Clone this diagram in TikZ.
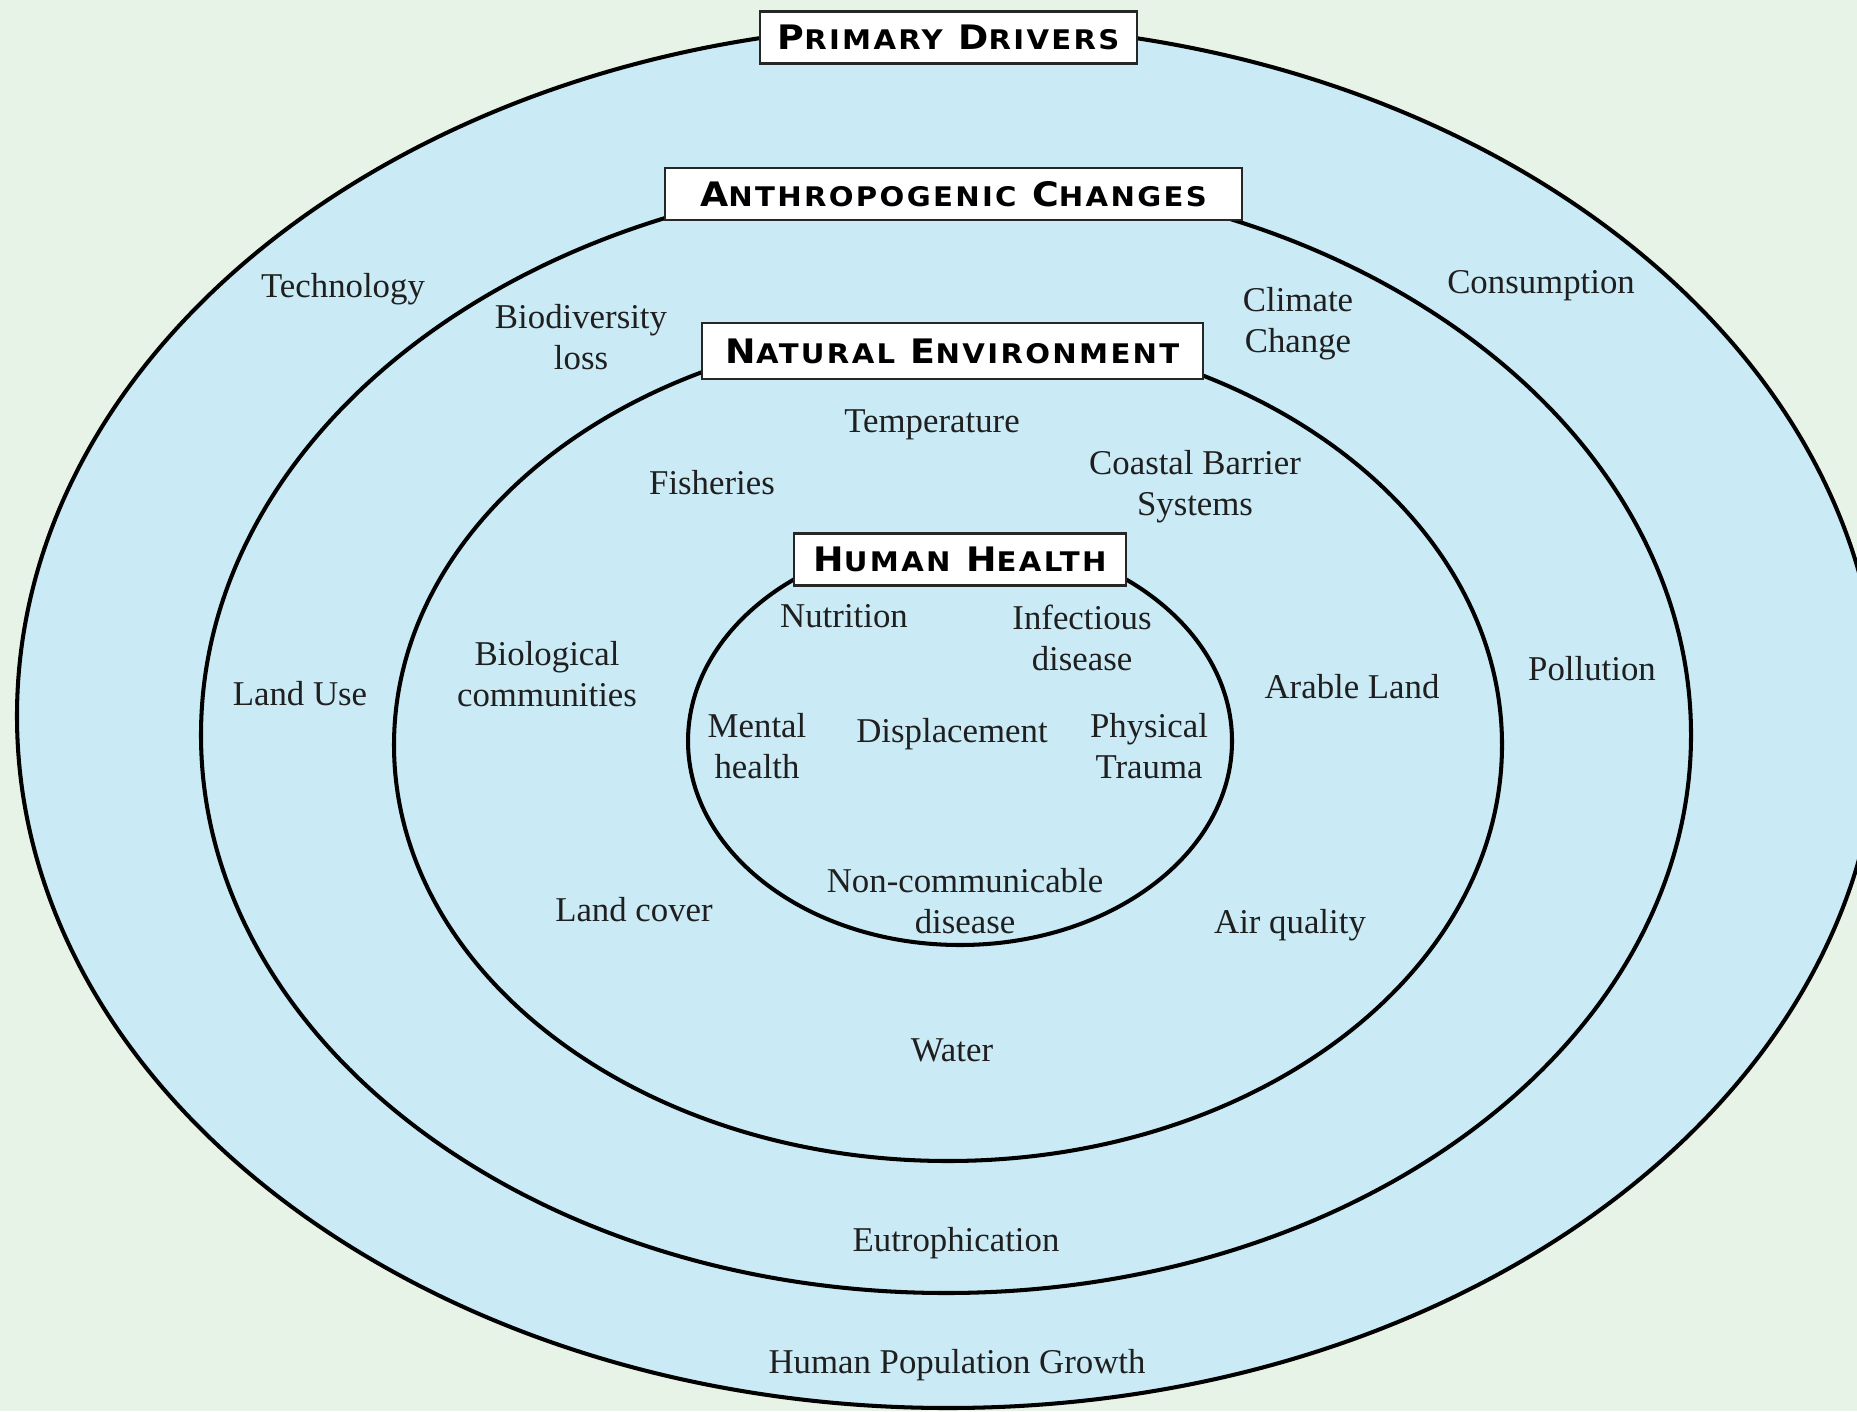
\documentclass[tikz,border=0pt]{standalone}
\usepackage{tikz}
\usepackage{graphicx}
\usepackage{fontspec}
\setmainfont{Liberation Serif}
\newfontfamily\titlefont[LetterSpace=8]{DejaVu Sans}

\definecolor{bgcol}{RGB}{232,243,231}
\definecolor{ringcol}{RGB}{202,234,245}

% first letter big, rest as small capitals
\newcommand{\scword}[2]{#1\scalebox{0.8}{#2}}
\newcommand{\ringtitle}[1]{\scalebox{1.08}[1]{\titlefont\bfseries\fontsize{9.6}{11}\selectfont #1}}

\tikzset{
    ringline/.style={line width=1.15pt, draw=black},
    ringbox/.style={draw=black!85, line width=0.8pt, fill=white, inner sep=0pt, minimum height=0.52cm},
    factor/.style={font=\fontsize{9.9}{11.7}\selectfont, align=center, inner sep=0pt, text=black!88},
}

\begin{document}
\begin{tikzpicture}
    \useasboundingbox (0,0) rectangle (18.57,14.11);
    \fill [bgcol] (0,0) rectangle (18.57,14.11);
    \clip (0,0) rectangle (18.57,14.11);
    % Ring centres
    \coordinate (cdrivers) at (9.48, 6.95);
    \coordinate (cchanges) at (9.46, 6.76);
    \coordinate (cnature) at (9.48, 6.66);
    \coordinate (chealth) at (9.60, 6.70);
    % Draw rings
    \filldraw [ringline, fill=ringcol] (cdrivers) ellipse [x radius=9.31, y radius=6.92];
    \draw [ringline] (cchanges) ellipse [x radius=7.45, y radius=5.58];
    \draw [ringline] (cnature) ellipse [x radius=5.54, y radius=4.16];
    \draw [ringline] (chealth) ellipse [x radius=2.72, y radius=2.04];
    % Ring titles
    \node [ringbox, minimum width=3.77cm] (drivers) at (9.485, 13.735) {\ringtitle{\scword{P}{RIMARY} \scword{D}{RIVERS}}};
    \node [ringbox, minimum width=5.77cm] (changes) at (9.535, 12.17) {\ringtitle{\scword{A}{NTHROPOGENIC} \scword{C}{HANGES}}};
    \node [ringbox, minimum width=5.01cm, minimum height=0.56cm] (nature) at (9.525, 10.60) {\ringtitle{\scword{N}{ATURAL} \scword{E}{NVIRONMENT}}};
    \node [ringbox, minimum width=3.32cm] (health) at (9.60, 8.515) {\ringtitle{\scword{H}{UMAN} \scword{H}{EALTH}}};
    % Primary drivers
    \node [factor] (technology) at (3.43, 11.22) {Technology};
    \node [factor] (consumption) at (15.41, 11.25) {Consumption};
    \node [factor] (pollution) at (15.92, 7.42) {Pollution};
    \node [factor] (landuse) at (3.00, 7.17) {Land Use};
    \node [factor] (popgrowth) at (9.57, 0.46) {Human Population Growth};
    % Anthropogenic changes
    \node [factor] (biodiv) at (5.81, 10.74) {Biodiversity\\loss};
    \node [factor] (climate) at (12.98, 10.87) {Climate\\Change};
    \node [factor] (eutroph) at (9.56, 1.68) {Eutrophication};
    % Natural environment
    \node [factor] (temperature) at (9.32, 9.86) {Temperature};
    \node [factor] (fisheries) at (7.12, 9.28) {Fisheries};
    \node [factor] (coastal) at (11.95, 9.24) {Coastal Barrier\\Systems};
    \node [factor] (biological) at (5.47, 7.37) {Biological\\communities};
    \node [factor] (arable) at (13.52, 7.24) {Arable Land};
    \node [factor] (landcover) at (6.34, 5.01) {Land cover};
    \node [factor] (airquality) at (12.90, 4.86) {Air quality};
    \node [factor] (water) at (9.52, 3.61) {Water};
    % Human health
    \node [factor] (nutrition) at (8.44, 7.95) {Nutrition};
    \node [factor] (infectious) at (10.82, 7.73) {Infectious\\disease};
    \node [factor] (mental) at (7.57, 6.65) {Mental\\health};
    \node [factor] (displacement) at (9.52, 6.77) {Displacement};
    \node [factor] (trauma) at (11.49, 6.65) {Physical\\Trauma};
    \node [factor] (noncomm) at (9.65, 5.10) {Non-communicable\\disease};
\end{tikzpicture}
\end{document}
